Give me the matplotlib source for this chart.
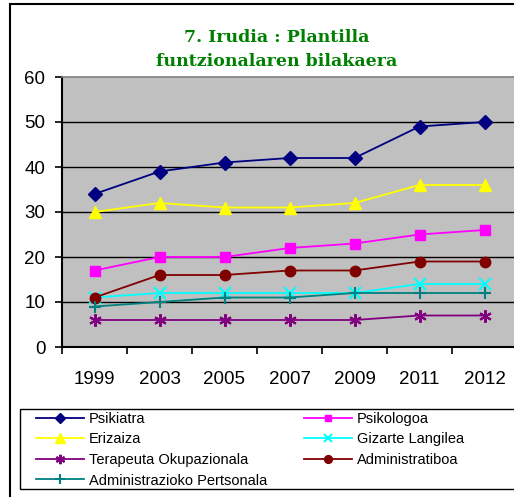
import matplotlib
matplotlib.use("Agg")
import matplotlib.pyplot as plt
from matplotlib.patches import Rectangle
import numpy as np

years = ["1999", "2003", "2005", "2007", "2009", "2011", "2012"]
psikiatra = [34, 39, 41, 42, 42, 49, 50]
psikologoa = [17, 20, 20, 22, 23, 25, 26]
erizaiza = [30, 32, 31, 31, 32, 36, 36]
gizarte = [11, 12, 12, 12, 12, 14, 14]
terapeuta = [6, 6, 6, 6, 6, 7, 7]
administratiboa = [11, 16, 16, 17, 17, 19, 19]
adm_pertsonala = [9, 10, 11, 11, 12, 12, 12]

W, H = 514, 497
fig = plt.figure(figsize=(W / 100, H / 100), dpi=100)
fig.patch.set_facecolor("white")

# outer border
fig.patches.append(Rectangle((10 / W, -0.1), 1.2, 1 - 4 / H + 0.1, transform=fig.transFigure,
                             fill=False, edgecolor="black", linewidth=1.5))
# legend box
fig.patches.append(Rectangle((20 / W, 1 - 489 / H), 1.2, 80 / H, transform=fig.transFigure,
                             fill=False, edgecolor="black", linewidth=1.0))

ax = fig.add_axes([62 / W, 1 - 347 / H, (517 - 62) / W, (347 - 77) / H])
ax.set_facecolor("#C0C0C0")

x = np.arange(len(years))
series = [
    ("Psikiatra", psikiatra, "#000080", dict(marker="D", ms=7)),
    ("Psikologoa", psikologoa, "#FF00FF", dict(marker="s", ms=6.5)),
    ("Erizaiza", erizaiza, "#FFFF00", dict(marker="^", ms=9)),
    ("Gizarte Langilea", gizarte, "#00FFFF", dict(marker="x", ms=8, mew=1.5)),
    ("Terapeuta Okupazionala", terapeuta, "#800080", dict(marker=(6, 2, 0), ms=9, mew=1.5)),
    ("Administratiboa", administratiboa, "#800000", dict(marker="o", ms=7.5)),
    ("Administrazioko Pertsonala", adm_pertsonala, "#008080", dict(marker="+", ms=9, mew=1.5)),
]
handles = {}
for name, vals, col, mk in series:
    h, = ax.plot(x, vals, color=col, lw=1.3, mfc=col, mec=col, label=name, zorder=3, **mk)
    handles[name] = h

ax.set_xlim(-0.5, len(years) - 0.5)
ax.set_ylim(0, 60)
ax.set_yticks(range(0, 61, 10))
for yv in range(10, 60, 10):
    ax.axhline(yv, color="black", lw=1.0, zorder=1)

ax.set_xticks(x)
ax.set_xticklabels(years)
ax.set_xticks(np.arange(-0.5, len(years), 1), minor=True)
ax.tick_params(axis="x", which="major", length=0, pad=17, labelsize=13.5)
ax.tick_params(axis="x", which="minor", length=5, width=1.2, direction="out")
ax.tick_params(axis="y", length=5, width=1.2, direction="out", pad=7, labelsize=13.5)
for lab in ax.get_xticklabels() + ax.get_yticklabels():
    lab.set_family("Liberation Sans")

for s in ["top", "right"]:
    ax.spines[s].set_color("#808080")
    ax.spines[s].set_linewidth(1.2)
for s in ["left", "bottom"]:
    ax.spines[s].set_color("black")
    ax.spines[s].set_linewidth(1.5)

fig.text(277 / W, 1 - 37 / H, "7. Irudia : Plantilla", ha="center", va="center",
         color="#008000", fontsize=12.5, fontweight="bold", family="DejaVu Serif")
fig.text(277 / W, 1 - 62 / H, "funtzionalaren bilakaera", ha="center", va="center",
         color="#008000", fontsize=12.5, fontweight="bold", family="DejaVu Serif")

order = ["Psikiatra", "Erizaiza", "Terapeuta Okupazionala", "Administrazioko Pertsonala",
         "Psikologoa", "Gizarte Langilea", "Administratiboa"]
leg = fig.legend([handles[n] for n in order], order, loc="upper left",
                 bbox_to_anchor=(33 / W, 1 - 409 / H),
                 ncol=2, frameon=False,
                 prop={"family": "Liberation Sans", "size": 10.5},
                 handlelength=3.3, handletextpad=0.35, labelspacing=0.45,
                 columnspacing=2.5, borderaxespad=0, borderpad=0.2, markerscale=0.75)

fig.savefig("out.png", dpi=100)
